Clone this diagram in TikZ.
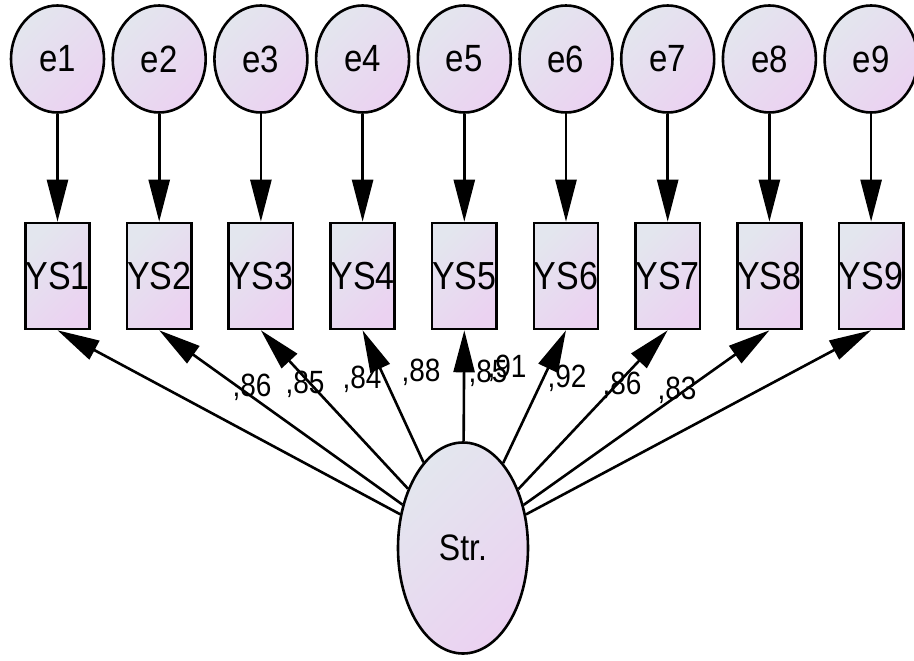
\documentclass[tikz,border=0pt]{standalone}
\usepackage{fontspec}
\usepackage{graphicx}
\setmainfont{Liberation Sans}
\usetikzlibrary{arrows.meta,shapes.geometric}
\definecolor{shadeA}{HTML}{E3E6EE}
\definecolor{shadeB}{HTML}{EBD2F1}
% text in this diagram is set slightly taller than wide
\newcommand{\tall}[1]{\scalebox{1}[1.15]{#1}}
\tikzset{
  shaded/.style={draw=black, line width=2.6pt, top color=shadeA, bottom color=shadeB, shading angle=45, inner sep=0pt},
  errnode/.style={shaded, ellipse, minimum width=93pt, minimum height=107pt, font=\fontsize{33}{33}\selectfont},
  obsnode/.style={shaded, rectangle, minimum width=64pt, minimum height=106pt, font=\fontsize{34}{34}\selectfont},
  latnode/.style={shaded, ellipse, minimum width=130pt, minimum height=211pt, font=\fontsize{32}{32}\selectfont},
  path/.style={line width=2.6pt, -{Triangle[length=42pt,width=21pt]}},
  wlabel/.style={font=\fontsize{28}{28}\selectfont, inner sep=0pt}
}
\begin{document}
\begin{tikzpicture}[x=1pt,y=-1pt]
\useasboundingbox (0,0) rectangle (914,661);
\foreach \i in {1,...,9} {
  \pgfmathsetmacro{\xx}{57.5+101.7*(\i-1)}
  \node[errnode] (e\i) at (\xx,59) {\tall{e\i}};
  \node[obsnode] (YS\i) at (\xx,276) {\tall{YS\i}};
  \draw[path] (e\i) -- (YS\i);
}
\node[latnode] (Str) at (463,548) {\tall{Str.}};
\foreach \i in {1,...,9} {
  \draw[path] (Str) -- (YS\i.south);
}
\node[wlabel] (w1) at (252,387) {\tall{,86}};
\node[wlabel] (w2) at (305,384) {\tall{,85}};
\node[wlabel] (w3) at (362,379) {\tall{,84}};
\node[wlabel] (w4) at (421,372) {\tall{,88}};
\node[wlabel] (w5) at (488,373) {\tall{,85}};
\node[wlabel] (w6) at (507,368) {\tall{,91}};
\node[wlabel] (w7) at (567,378) {\tall{,92}};
\node[wlabel] (w8) at (622,385) {\tall{,86}};
\node[wlabel] (w9) at (677,390) {\tall{,83}};
\end{tikzpicture}
\end{document}
